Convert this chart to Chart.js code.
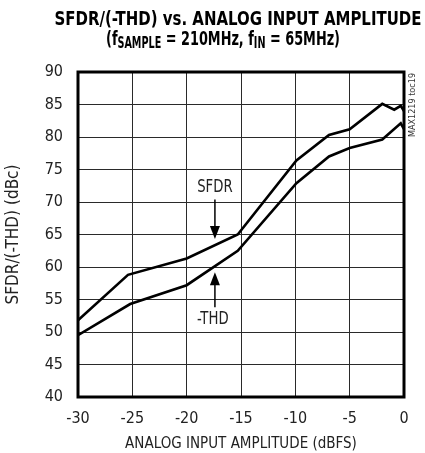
<!DOCTYPE html>
<html>
<head>
<meta charset="utf-8">
<script src="https://cdn.jsdelivr.net/npm/chart.js@4.4.1/dist/chart.umd.min.js"></script>
<style>
  html, body { margin: 0; padding: 0; background: #fff; }
  #wrap { position: relative; width: 425px; height: 453px; }
</style>
</head>
<body>
<div id="wrap"><canvas id="c" width="425" height="453"></canvas></div>
<script>
// Input amplitude (dBFS) and measured SFDR / -THD (dBc)
const sfdrX = [-30, -25.4, -20, -15.3, -9.9, -6.9, -5, -2, -0.9, -0.3, 0];
const sfdrY = [51.8, 58.8, 61.3, 65.0, 76.4, 80.3, 81.2, 85.1, 84.2, 84.8, 84.0];
const thdX  = [-30, -25.2, -20, -15.3, -9.9, -6.9, -5, -2, -0.3, 0];
const thdY  = [49.5, 54.3, 57.2, 62.5, 72.9, 77.0, 78.3, 79.6, 82.1, 81.2];

const xTicks = [-30, -25, -20, -15, -10, -5, 0];
const yTicks = [40, 45, 50, 55, 60, 65, 70, 75, 80, 85, 90];

// Curve labels: text, label position, arrow start, arrow tip (data units)
const curveLabels = [
  { text: 'SFDR', at: [-17.4, 72.3], from: [-17.4, 70.4], to: [-17.4, 64.3] },
  { text: '-THD', at: [-17.6, 51.9], from: [-17.4, 53.8], to: [-17.4, 59.2] }
];

const FONT = '"Liberation Sans Narrow", "DejaVu Sans Condensed", "Liberation Sans", sans-serif';

const toPoints = (xs, ys) => xs.map((x, i) => ({ x, y: ys[i] }));

const frameAndNotes = {
  id: 'frameAndNotes',
  afterDatasetsDraw(chart) {
    const { ctx, chartArea: a, scales: { x, y } } = chart;
    ctx.save();
    // plot frame
    ctx.strokeStyle = '#000';
    ctx.lineWidth = 3;
    ctx.strokeRect(a.left, a.top, a.right - a.left, a.bottom - a.top);

    // curve labels with arrows
    ctx.strokeStyle = '#000';
    ctx.font = '16px ' + FONT;
    ctx.textAlign = 'center';
    ctx.textBaseline = 'middle';
    curveLabels.forEach(l => {
      ctx.fillStyle = '#222';
      const lx = x.getPixelForValue(l.at[0]), ly = y.getPixelForValue(l.at[1]);
      ctx.save();
      ctx.translate(lx, ly);
      ctx.scale(0.92, 1.1);
      ctx.fillText(l.text, 0, 0);
      ctx.restore();
      const x0 = x.getPixelForValue(l.from[0]), y0 = y.getPixelForValue(l.from[1]);
      const x1 = x.getPixelForValue(l.to[0]),   y1 = y.getPixelForValue(l.to[1]);
      const dir = Math.sign(y1 - y0);
      ctx.lineWidth = 1.5;
      ctx.beginPath();
      ctx.moveTo(x0, y0);
      ctx.lineTo(x1, y1 - dir * 10);
      ctx.stroke();
      ctx.beginPath();
      ctx.moveTo(x1, y1);
      ctx.lineTo(x1 - 5, y1 - dir * 13);
      ctx.lineTo(x1 + 5, y1 - dir * 13);
      ctx.closePath();
      ctx.fillStyle = '#000';
      ctx.fill();
    });

    // figure id, vertical along the right edge
    ctx.save();
    ctx.translate(a.right + 9, a.top + 33);
    ctx.rotate(-Math.PI / 2);
    ctx.font = '9px ' + FONT;
    ctx.fillStyle = '#333';
    ctx.fillText('MAX1219 toc19', 0, 0);
    ctx.restore();
    ctx.restore();
  }
};

// Two-line title with subscripts, set in a narrow bold face
const titleBlock = {
  id: 'titleBlock',
  afterDraw(chart) {
    const { ctx } = chart;
    ctx.save();
    ctx.fillStyle = '#000';
    ctx.textBaseline = 'alphabetic';
    ctx.textAlign = 'left';
    const big = 'bold 20px ' + FONT;
    const small = 'bold 15px ' + FONT;

    const line1 = 'SFDR/(-THD) vs. ANALOG INPUT AMPLITUDE';
    ctx.font = big;
    const w1 = ctx.measureText(line1).width;
    const s1 = 367 / w1;
    ctx.save();
    ctx.translate(238 - 367 / 2, 25);
    ctx.scale(s1, 1);
    ctx.fillText(line1, 0, 0);
    ctx.restore();

    const parts = [
      ['(f', big, 0], ['SAMPLE', small, 3], [' = 210MHz, f', big, 0], ['IN', small, 3], [' = 65MHz)', big, 0]
    ];
    let total = 0;
    parts.forEach(p => { ctx.font = p[1]; total += ctx.measureText(p[0]).width; });
    const s2 = 234 / total;
    ctx.save();
    ctx.translate(106, 45);
    ctx.scale(s2, 1);
    let cx = 0;
    parts.forEach(p => {
      ctx.font = p[1];
      ctx.fillText(p[0], cx, p[2]);
      cx += ctx.measureText(p[0]).width;
    });
    ctx.restore();
    ctx.restore();
  }
};

new Chart(document.getElementById('c'), {
  type: 'line',
  data: {
    datasets: [
      { label: 'SFDR', data: toPoints(sfdrX, sfdrY), borderColor: '#000', borderWidth: 2.6, pointRadius: 0, tension: 0, fill: false },
      { label: '-THD', data: toPoints(thdX, thdY), borderColor: '#000', borderWidth: 2.6, pointRadius: 0, tension: 0, fill: false }
    ]
  },
  options: {
    responsive: false,
    animation: false,
    devicePixelRatio: 1,
    layout: { padding: { top: 72, right: 21, left: 3, bottom: 0 } },
    plugins: { legend: { display: false }, tooltip: { enabled: false }, title: { display: false } },
    scales: {
      x: {
        type: 'linear',
        min: -30, max: 0,
        afterBuildTicks: s => { s.ticks = xTicks.map(v => ({ value: v })); },
        afterFit: s => { s.height = 56; },
        grid: { color: '#2a2a2a', lineWidth: 1, drawTicks: false },
        border: { display: false },
        ticks: { color: '#222', font: { family: FONT, size: 16 }, padding: 12, maxRotation: 0 },
        title: { display: true, text: 'ANALOG INPUT AMPLITUDE (dBFS)', color: '#222', font: { family: FONT, size: 15 }, padding: { top: 4, bottom: 0 } }
      },
      y: {
        type: 'linear',
        min: 40, max: 90,
        afterBuildTicks: s => { s.ticks = yTicks.map(v => ({ value: v })); },
        afterFit: s => { s.width = 75; },
        grid: { color: '#2a2a2a', lineWidth: 1, drawTicks: false },
        border: { display: false },
        ticks: { color: '#222', font: { family: FONT, size: 16 }, padding: 15 },
        title: { display: true, text: 'SFDR/(-THD) (dBc)', color: '#222', font: { family: FONT, size: 17 }, padding: { top: 0, bottom: 0 } }
      }
    }
  },
  plugins: [frameAndNotes, titleBlock]
});
</script>
</body>
</html>
